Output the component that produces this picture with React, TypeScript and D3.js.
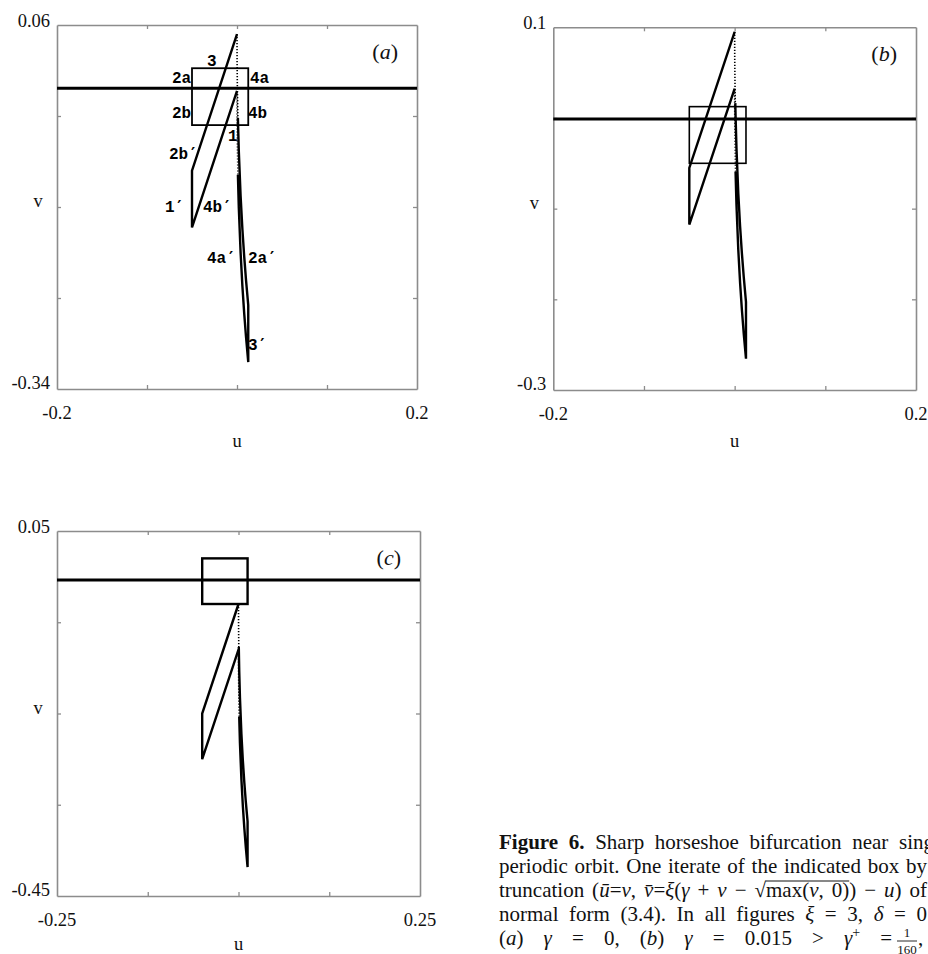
import React, { useEffect, useRef } from 'react';
import * as d3 from 'd3';

type Pt = [number, number];

// box that gets iterated (same in every panel)
const boxU: Pt = [-0.05, 0.0125];
const boxV: Pt = [-0.05, 0.0125];

// panel (a), gamma = 0
const uDomainA: Pt = [-0.2, 0.2];
const vDomainA: Pt = [-0.34, 0.06];
const uTicksA = [-0.1, 0, 0.1];
const vTicksA = [-0.24, -0.14, -0.04];
const uLabelsA = ['-0.2', '0.2'];
const vLabelsA = ['-0.34', '0.06'];
const levelA = -0.0095;
const solidA: Pt[][] = [
  [[0, -0.0125], [-0.05, -0.1625], [-0.05, -0.1], [0, 0.05]],
  [[0.001, -0.0419], [0.002, -0.0782], [0.004, -0.1277], [0.006, -0.1644], [0.008, -0.1943], [0.01, -0.22], [0.0125, -0.2479],
   [0.0125, -0.3104], [0.01, -0.2825], [0.008, -0.2568], [0.006, -0.2269], [0.004, -0.1902], [0.002, -0.1407], [0.001, -0.1044]],
];
const dottedA: Pt[][] = [
  [[0, 0.05], [0.0001, 0.0203], [0.0004, -0.0088], [0.001, -0.0419]],
  [[0.001, -0.1044], [0.0004, -0.0713], [0.0001, -0.0422], [0, -0.0125]],
];
const edgeNamesA: [string, number, number][] = [
  ['3', -0.0333, 0.015],
  ['2a', -0.0722, -0.0037],
  ['4a', 0.0144, -0.0037],
  ['2b', -0.0722, -0.042],
  ['4b', 0.0122, -0.042],
  ['1', -0.01, -0.0675],
  ['2b\u2032', -0.0756, -0.0873],
  ['1\u2032', -0.08, -0.1455],
  ['4b\u2032', -0.0378, -0.1455],
  ['4a\u2032', -0.0333, -0.2015],
  ['2a\u2032', 0.0122, -0.2015],
  ['3\u2032', 0.0122, -0.297],
];

// panel (b), gamma = 0.015
const uDomainB: Pt = [-0.2, 0.2];
const vDomainB: Pt = [-0.3, 0.1];
const uTicksB = [-0.1, 0, 0.1];
const vTicksB = [-0.2, -0.1, 0];
const uLabelsB = ['-0.2', '0.2'];
const vLabelsB = ['-0.3', '0.1'];
const levelB = -0.001;
const solidB: Pt[][] = [
  [[0, 0.0325], [-0.05, -0.1175], [-0.05, -0.055], [0, 0.095]],
  [[0.0007, 0.0164], [0.001, 0.0031], [0.002, -0.0332], [0.004, -0.0827], [0.006, -0.1194], [0.008, -0.1493], [0.01, -0.175], [0.0125, -0.2029],
   [0.0125, -0.2654], [0.01, -0.2375], [0.008, -0.2118], [0.006, -0.1819], [0.004, -0.1452], [0.002, -0.0957], [0.001, -0.0594]],
];
const dottedB: Pt[][] = [
  [[0, 0.095], [0.0001, 0.0653], [0.0004, 0.0362], [0.0007, 0.0164]],
  [[0.001, -0.0594], [0.0004, -0.0263], [0.0001, 0.0028], [0, 0.0325]],
];

// panel (c), gamma = -1/30
const uDomainC: Pt = [-0.25, 0.25];
const vDomainC: Pt = [-0.45, 0.05];
const uTicksC = [-0.125, 0, 0.125];
const vTicksC = [-0.325, -0.2, -0.075];
const uLabelsC = ['-0.25', '0.25'];
const vLabelsC = ['-0.45', '0.05'];
const levelC = -0.017;
const solidC: Pt[][] = [
  [[0, -0.1125], [-0.05, -0.2625], [-0.05, -0.2], [0, -0.05]],
  [[0.0004, -0.1088], [0.001, -0.1419], [0.002, -0.1782], [0.004, -0.2277], [0.006, -0.2644], [0.008, -0.2943], [0.01, -0.32], [0.0125, -0.3479],
   [0.0125, -0.4104], [0.01, -0.3825], [0.008, -0.3568], [0.006, -0.3269], [0.004, -0.2902], [0.002, -0.2407], [0.001, -0.2044]],
];
const dottedC: Pt[][] = [
  [[0, -0.05], [0.0001, -0.0797], [0.0004, -0.1088]],
  [[0.001, -0.2044], [0.0004, -0.1713], [0.0001, -0.1422], [0, -0.1125]],
];

// caption, one array per printed line: [text, style]
type Seg = [string, string];
const captionLine1: Seg[] = [['Figure 6.', 'b'], [' Sharp horseshoe bifurcation near sing', 'n']];
const captionLine2: Seg[] = [['periodic orbit. One iterate of the indicated box by', 'n']];
const captionLine3: Seg[] = [
  ['truncation (', 'n'], ['\u016b', 'i'], ['=', 'n'], ['v', 'i'], [', ', 'n'], ['v\u0304', 'i'], ['=', 'n'], ['\u03be', 'i'],
  ['(', 'n'], ['\u03b3', 'i'], [' + ', 'n'], ['v', 'i'], [' \u2212 \u221a', 'n'], ['max(', 'o'], ['v', 'io'], [', 0)', 'o'],
  [') \u2212 ', 'n'], ['u', 'i'], [') of', 'n'],
];
const captionLine4: Seg[] = [['normal form (3.4). In all figures ', 'n'], ['\u03be', 'i'], [' = 3, ', 'n'], ['\u03b4', 'i'], [' = 0', 'n']];
const captionLine5: Seg[] = [
  ['(', 'n'], ['a', 'i'], [') ', 'n'], ['\u03b3', 'i'], [' = 0, (', 'n'], ['b', 'i'], [') ', 'n'], ['\u03b3', 'i'],
  [' = 0.015 > ', 'n'], ['\u03b3', 'i'], ['+', 'sup'], [' =', 'n'],
];
const captionFraction = ['1', '160'];

const SERIF = '"Liberation Serif", "Times New Roman", serif';
const MONO = '"Liberation Mono", "Courier New", monospace';

const App = () => {
  const svgRef = useRef<SVGSVGElement>(null);

  useEffect(() => {
    const svg = d3.select(svgRef.current);
    svg.selectAll('*').remove();

    const panels = [
      { x0: 57, x1: 417, y0: 25, y1: 389, uDomain: uDomainA, vDomain: vDomainA, uTicks: uTicksA, vTicks: vTicksA,
        uLabels: uLabelsA, vLabels: vLabelsA, level: levelA, solid: solidA, dotted: dottedA, tag: 'a', boxW: 1.8, names: edgeNamesA, uY: 58 },
      { x0: 553.3, x1: 916, y0: 27.3, y1: 390, uDomain: uDomainB, vDomain: vDomainB, uTicks: uTicksB, vTicks: vTicksB,
        uLabels: uLabelsB, vLabels: vLabelsB, level: levelB, solid: solidB, dotted: dottedB, tag: 'b', boxW: 1.6, names: [], uY: 57 },
      { x0: 57, x1: 420, y0: 531, y1: 896, uDomain: uDomainC, vDomain: vDomainC, uTicks: uTicksC, vTicks: vTicksC,
        uLabels: uLabelsC, vLabels: vLabelsC, level: levelC, solid: solidC, dotted: dottedC, tag: 'c', boxW: 2.4, names: [], uY: 54 },
    ];

    const axisColor = '#8c8c8c';

    panels.forEach(p => {
      const g = svg.append('g');
      const x = d3.scaleLinear().domain(p.uDomain).range([p.x0, p.x1]);
      const y = d3.scaleLinear().domain(p.vDomain).range([p.y1, p.y0]);

      const addAxis = (axis: any, tr: string) => {
        const a = g.append('g').attr('transform', tr).call(axis);
        a.select('.domain').attr('stroke', axisColor).attr('stroke-width', 1.6);
        a.selectAll('.tick line').attr('stroke', axisColor).attr('stroke-width', 1.3);
        a.selectAll('.tick text').remove();
      };
      addAxis(d3.axisBottom(x).tickValues(p.uTicks).tickSize(-4).tickSizeOuter(0), `translate(0,${p.y1})`);
      addAxis(d3.axisTop(x).tickValues(p.uTicks).tickSize(-4).tickSizeOuter(0), `translate(0,${p.y0})`);
      addAxis(d3.axisLeft(y).tickValues(p.vTicks).tickSize(-4).tickSizeOuter(0), `translate(${p.x0},0)`);
      addAxis(d3.axisRight(y).tickValues(p.vTicks).tickSize(-4).tickSizeOuter(0), `translate(${p.x1},0)`);

      const lbl = (t: string, tx: number, ty: number, anchor: string) =>
        g.append('text').attr('x', tx).attr('y', ty).attr('text-anchor', anchor)
          .attr('font-family', SERIF).attr('font-size', 18.5).attr('fill', '#111').text(t);

      lbl(p.uLabels[0], x(p.uDomain[0]), p.y1 + 30, 'middle');
      lbl(p.uLabels[1], x(p.uDomain[1]), p.y1 + 30, 'middle');
      lbl(p.vLabels[1], p.x0 - 7, y(p.vDomain[1]) + 2, 'end');
      lbl(p.vLabels[0], p.x0 - 7, y(p.vDomain[0]), 'end');
      lbl('v', p.x0 - 19, (p.y0 + p.y1) / 2, 'middle');
      lbl('u', (p.x0 + p.x1) / 2, p.y1 + p.uY, 'middle');

      const tag = g.append('text').attr('x', p.x1 - 19).attr('y', p.y0 + 34).attr('text-anchor', 'end')
        .attr('font-family', SERIF).attr('font-size', 22).attr('fill', '#111');
      tag.append('tspan').text('(');
      tag.append('tspan').attr('font-style', 'italic').text(p.tag);
      tag.append('tspan').text(')');

      // horizontal line
      g.append('line')
        .attr('x1', p.x0).attr('x2', p.x1)
        .attr('y1', y(p.level)).attr('y2', y(p.level))
        .attr('stroke', '#000').attr('stroke-width', 3);

      // the box
      g.append('rect')
        .attr('x', x(boxU[0])).attr('y', y(boxV[1]))
        .attr('width', x(boxU[1]) - x(boxU[0])).attr('height', y(boxV[0]) - y(boxV[1]))
        .attr('fill', 'none').attr('stroke', '#000').attr('stroke-width', p.boxW);

      // its image
      const line = d3.line<Pt>().x(d => x(d[0])).y(d => y(d[1]));
      p.solid.forEach(s => {
        g.append('path').attr('d', line(s)).attr('fill', 'none')
          .attr('stroke', '#000').attr('stroke-width', 2.4);
      });
      p.dotted.forEach(s => {
        g.append('path').attr('d', line(s)).attr('fill', 'none')
          .attr('stroke', '#000').attr('stroke-width', 1.6).attr('stroke-dasharray', '1.2 1.8');
      });

      // edge names (prime taken from DejaVu, which has the slanted glyph)
      p.names.forEach(([t, u, v]) => {
        const txt = g.append('text').attr('x', x(u)).attr('y', y(v))
          .attr('font-family', MONO).attr('font-weight', 'bold').attr('font-size', 16).attr('fill', '#000');
        const base = t.replace('\u2032', '');
        txt.append('tspan').text(base);
        if (t.includes('\u2032')) {
          txt.append('tspan').attr('font-family', '"DejaVu Sans Mono", monospace').text('\u2032');
        }
      });
    });

    // caption
    const capX = 499;
    const capSize = 21;
    const capLines: [Seg[], number, number][] = [
      [captionLine1, 849, 934],
      [captionLine2, 873, 927],
      [captionLine3, 897, 927],
      [captionLine4, 921, 927],
      [captionLine5, 945, 892],
    ];
    let lastEnd = 0;
    capLines.forEach(([segs, by, right]) => {
      const t = svg.append('text').attr('x', capX).attr('y', by)
        .attr('font-family', SERIF).attr('font-size', capSize).attr('fill', '#111');
      let raised = false;
      const over: SVGTSpanElement[] = [];
      segs.forEach(([s, st]) => {
        const ts = t.append('tspan').text(s);
        if (st === 'b') ts.attr('font-weight', 'bold');
        if (st.includes('i')) ts.attr('font-style', 'italic');
        if (st.includes('o')) over.push(ts.node() as SVGTSpanElement);
        if (st === 'sup') {
          ts.attr('font-size', 14).attr('dy', -8);
          raised = true;
        } else if (raised) {
          ts.attr('dy', 8);
          raised = false;
        }
      });
      const node = t.node() as SVGTextElement;
      const len = node.getComputedTextLength();
      const spaces = (node.textContent || '').split(' ').length - 1;
      if (spaces > 0) t.attr('word-spacing', (right - capX - len) / spaces);
      lastEnd = right;

      // radical bar over max(v, 0)
      if (over.length) {
        const r0 = over[0].getBoundingClientRect();
        const r1 = over[over.length - 1].getBoundingClientRect();
        const sr = (svgRef.current as SVGSVGElement).getBoundingClientRect();
        svg.append('line')
          .attr('x1', r0.left - sr.left - 0.5).attr('x2', r1.right - sr.left)
          .attr('y1', by - 16).attr('y2', by - 16)
          .attr('stroke', '#111').attr('stroke-width', 1);
      }
    });

    // fraction 1/160 at the end of the last line
    const fx = lastEnd + 15;
    svg.append('text').attr('x', fx).attr('y', 937).attr('text-anchor', 'middle')
      .attr('font-family', SERIF).attr('font-size', 13).attr('fill', '#111').text(captionFraction[0]);
    svg.append('line').attr('x1', fx - 10).attr('x2', fx + 10).attr('y1', 941).attr('y2', 941)
      .attr('stroke', '#111').attr('stroke-width', 0.9);
    svg.append('text').attr('x', fx).attr('y', 954).attr('text-anchor', 'middle')
      .attr('font-family', SERIF).attr('font-size', 13).attr('fill', '#111').text(captionFraction[1]);
    svg.append('text').attr('x', fx + 11).attr('y', 945)
      .attr('font-family', SERIF).attr('font-size', capSize).attr('fill', '#111').text(',');
  }, []);

  return (
    <div className="figure">
      <svg ref={svgRef} width={928} height={954}
        style={{ position: 'absolute', left: 0, top: 0, background: '#fff' }} />
    </div>
  );
};

export default App;
